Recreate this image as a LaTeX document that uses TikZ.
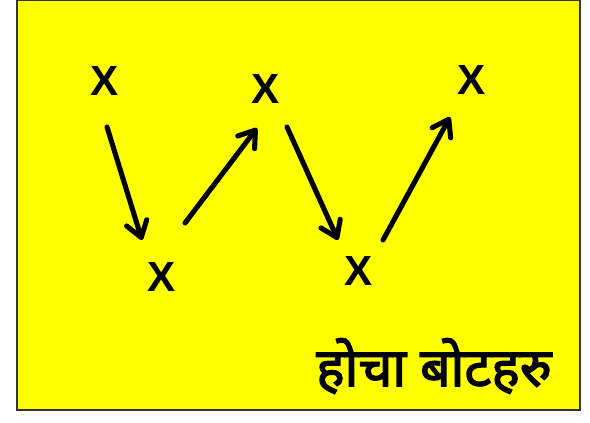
\documentclass[tikz,border=0pt]{standalone}
\usepackage{fontspec}
\setsansfont{Liberation Sans}
\newfontfamily\devfont[Script=Devanagari,FakeBold=2.5]{Noto Sans}
\usetikzlibrary{arrows.meta,calc}
\definecolor{bgyellow}{RGB}{255,255,0}
\tikzset{
	mark x/.style={font=\sffamily\bfseries\fontsize{30}{30}\selectfont, inner sep=0pt},
	zig/.style={line width=3.6pt, line cap=round, line join=round,
		-{Straight Barb[length=11pt,width=15pt,line cap=round,line join=round]}}
}
\begin{document}
\begin{tikzpicture}[x=0.025cm, y=-0.025cm]
	\useasboundingbox (0,0) rectangle (590,422);
	\fill[bgyellow] (17,0) rectangle (580,410);
	\draw[black!80, line width=1.2pt] (17,0) rectangle (580,410);
	% the five marks
	\node[mark x] (x1) at (105,81) {X};
	\node[mark x] (x2) at (162,277) {X};
	\node[mark x] (x3) at (266,89) {X};
	\node[mark x] (x4) at (359,271) {X};
	\node[mark x] (x5) at (472,80) {X};
	% arrows between them
	\draw[zig] ($(x1)+(2,46)$) -- ($(x2)+(-20,-37)$);
	\draw[zig] ($(x2)+(23,-54)$) -- ($(x3)+(-9,39)$);
	\draw[zig] ($(x3)+(21,38)$) -- ($(x4)+(-21,-31)$);
	\draw[zig] ($(x4)+(24,-31)$) -- ($(x5)+(-22,37)$);
	\node[font=\devfont\fontsize{38}{38}\selectfont, inner sep=0pt] (title) at (434,366) {होचा बोटहरु};
\end{tikzpicture}
\end{document}
